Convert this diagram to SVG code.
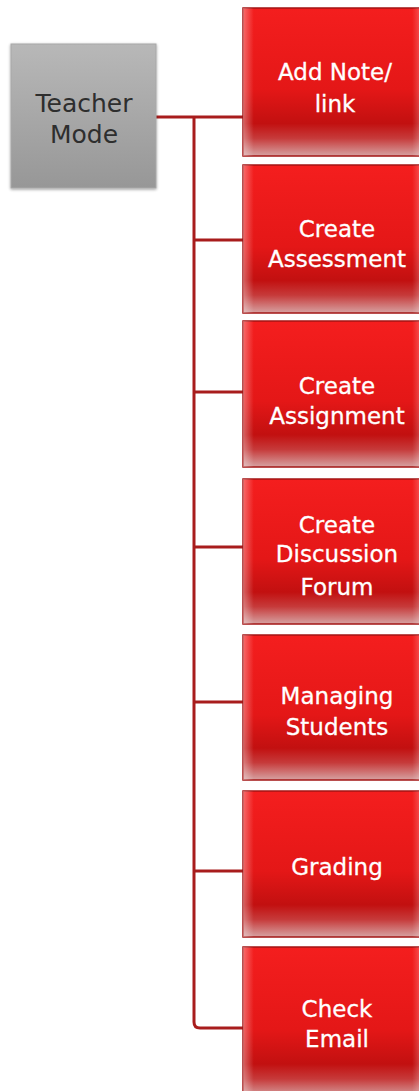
<svg xmlns="http://www.w3.org/2000/svg" width="419" height="1091" viewBox="0 0 419 1091">
<defs>
<linearGradient id="redV" x1="0" y1="0" x2="0" y2="1">
<stop offset="0" stop-color="#f41e1e"/>
<stop offset="0.55" stop-color="#e41717"/>
<stop offset="0.78" stop-color="#c21010"/>
<stop offset="0.88" stop-color="#c63a3a"/>
<stop offset="1" stop-color="#d6a2a2"/>
</linearGradient>
<linearGradient id="redH" x1="0" y1="0" x2="1" y2="0">
<stop offset="0" stop-color="#ffffff" stop-opacity="0.35"/>
<stop offset="0.06" stop-color="#ffffff" stop-opacity="0"/>
<stop offset="0.94" stop-color="#ffffff" stop-opacity="0"/>
<stop offset="1" stop-color="#ffffff" stop-opacity="0.3"/>
</linearGradient>
<linearGradient id="grayV" x1="0" y1="0" x2="0" y2="1">
<stop offset="0" stop-color="#b8b8b8"/>
<stop offset="1" stop-color="#979797"/>
</linearGradient>
<filter id="sh" x="-10%" y="-10%" width="120%" height="120%">
<feGaussianBlur in="SourceAlpha" stdDeviation="1.5"/>
<feOffset dx="0" dy="1"/>
<feComponentTransfer><feFuncA type="linear" slope="0.4"/></feComponentTransfer>
<feMerge><feMergeNode/><feMergeNode in="SourceGraphic"/></feMerge>
</filter>
</defs>
<style>
.rb{fill:url(#redV);stroke:#a31515;stroke-width:1.5}
.rh{fill:url(#redH);stroke:none}
.rt{font-family:"DejaVu Sans","Liberation Sans",sans-serif;font-size:23px;fill:#ffffff;stroke:#ffffff;stroke-width:0.3;text-anchor:middle}
.gt{font-family:"DejaVu Sans","Liberation Sans",sans-serif;font-size:25px;fill:#2e2e2e;text-anchor:middle}
.cn{fill:none;stroke:#a81c1c;stroke-width:3}
</style>
<g id="connectors">
<path class="cn" d="M156,117 H243"/>
<path class="cn" d="M194,117 V1022 Q194,1028 200,1028 H243"/>
<path class="cn" d="M194,240 H243"/>
<path class="cn" d="M194,392 H243"/>
<path class="cn" d="M194,547 H243"/>
<path class="cn" d="M194,702 H243"/>
<path class="cn" d="M194,871 H243"/>
</g>
<g id="teacher-mode">
<rect x="11" y="44" width="145" height="144" fill="url(#grayV)" stroke="#a8a8a8" stroke-width="1" filter="url(#sh)"/>
<text class="gt" x="84" y="112">Teacher</text>
<text class="gt" x="84" y="143">Mode</text>
</g>
<g id="add-note">
<rect class="rb" x="243" y="8" width="180" height="148"/>
<rect class="rh" x="243" y="8" width="180" height="148"/>
<text class="rt" x="335" y="80">Add Note/</text>
<text class="rt" x="335" y="112">link</text>
</g>
<g id="create-assessment">
<rect class="rb" x="243" y="165" width="180" height="148"/>
<rect class="rh" x="243" y="165" width="180" height="148"/>
<text class="rt" x="337" y="237">Create</text>
<text class="rt" x="337" y="267">Assessment</text>
</g>
<g id="create-assignment">
<rect class="rb" x="243" y="321" width="180" height="146"/>
<rect class="rh" x="243" y="321" width="180" height="146"/>
<text class="rt" x="337" y="394">Create</text>
<text class="rt" x="337" y="424">Assignment</text>
</g>
<g id="create-discussion-forum">
<rect class="rb" x="243" y="479" width="180" height="145"/>
<rect class="rh" x="243" y="479" width="180" height="145"/>
<text class="rt" x="337" y="533">Create</text>
<text class="rt" x="337" y="562">Discussion</text>
<text class="rt" x="337" y="595">Forum</text>
</g>
<g id="managing-students">
<rect class="rb" x="243" y="635" width="180" height="145"/>
<rect class="rh" x="243" y="635" width="180" height="145"/>
<text class="rt" x="337" y="704">Managing</text>
<text class="rt" x="337" y="735">Students</text>
</g>
<g id="grading">
<rect class="rb" x="243" y="791" width="180" height="146"/>
<rect class="rh" x="243" y="791" width="180" height="146"/>
<text class="rt" x="337" y="875">Grading</text>
</g>
<g id="check-email">
<rect class="rb" x="243" y="947" width="180" height="150"/>
<rect class="rh" x="243" y="947" width="180" height="150"/>
<text class="rt" x="337" y="1017">Check</text>
<text class="rt" x="337" y="1047">Email</text>
</g>
</svg>
